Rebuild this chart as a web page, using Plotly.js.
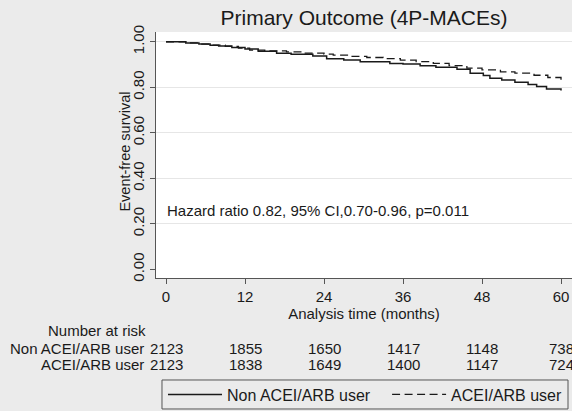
<!DOCTYPE html>
<html>
<head>
<meta charset="utf-8">
<script src="https://cdn.plot.ly/plotly-3.0.1.min.js"></script>
<style>html,body{margin:0;padding:0;background:#ebebeb;overflow:hidden}</style>
</head>
<body>
<div id="chart" style="width:572px;height:411px"></div>
<script>
// Kaplan-Meier estimates
const timeNon = [0, 3, 5, 6.7, 8, 10, 12, 14, 16.8, 19, 22.3, 24.4, 27, 29.5, 34, 36, 38.6, 41, 44.2, 46.2, 48.2, 49.2, 51, 53, 55, 56.3, 57.8, 59, 60];
const survNon = [1.000, 0.995, 0.990, 0.985, 0.981, 0.975, 0.968, 0.958, 0.950, 0.945, 0.937, 0.926, 0.920, 0.912, 0.905, 0.902, 0.895, 0.888, 0.879, 0.862, 0.852, 0.840, 0.832, 0.822, 0.812, 0.803, 0.793, 0.792, 0.786];
const timeAcei = [0, 3, 5, 7, 9, 11, 12.7, 15, 18.3, 21, 24, 25.4, 28, 30.5, 33, 35.6, 38, 40.6, 43, 45.7, 48, 50.8, 53, 55.9, 58, 60];
const survAcei = [1.000, 0.995, 0.990, 0.985, 0.980, 0.972, 0.963, 0.960, 0.956, 0.950, 0.946, 0.941, 0.936, 0.931, 0.926, 0.919, 0.913, 0.905, 0.895, 0.884, 0.877, 0.868, 0.862, 0.853, 0.843, 0.832];

const seriesNames = ["Non ACEI/ARB user", "ACEI/ARB user"];
const riskTimes = [0, 12, 24, 36, 48, 60];
const riskNon = [2123, 1855, 1650, 1417, 1148, 738];
const riskAcei = [2123, 1838, 1649, 1400, 1147, 724];
const xTicks = [0, 12, 24, 36, 48, 60];
const yTicks = [0, 0.2, 0.4, 0.6, 0.8, 1.0];
const yTickText = ["0.00", "0.20", "0.40", "0.60", "0.80", "1.00"];
const gridVals = [0.2, 0.4, 0.6, 0.8, 1.0];
const hazardText = "Hazard ratio 0.82, 95% CI,0.70-0.96, p=0.011";
const titleText = "Primary Outcome (4P-MACEs)";
const xTitle = "Analysis time (months)";
const yTitle = "Event-free survival";

const FONT = "Liberation Sans, Arial, Helvetica, sans-serif";
const INK = "#1a1a1a";
const AXIS = "#555555";

const traces = [
  {x: timeNon, y: survNon, type: "scatter", mode: "lines", name: seriesNames[0], legend: "legend",
   line: {color: INK, width: 1.5, shape: "hv"}},
  {x: timeAcei, y: survAcei, type: "scatter", mode: "lines", name: seriesNames[1], legend: "legend2",
   line: {color: INK, width: 1.3, shape: "hv", dash: "8px,4.5px"}}
];

const annotations = [];
annotations.push({xref: "x", yref: "y", x: -0.2, y: 0.26, xanchor: "left", yanchor: "middle",
  text: hazardText, showarrow: false, font: {family: FONT, size: 15, color: INK}});
annotations.push({xref: "paper", yref: "paper", x: -0.0745, y: 0.514, xanchor: "center", yanchor: "middle",
  textangle: -90, text: yTitle, showarrow: false, font: {family: FONT, size: 14.5, color: INK}});
annotations.push({xref: "paper", yref: "paper", x: -0.02, y: -0.2154, xanchor: "right", yanchor: "middle",
  text: "Number at risk", showarrow: false, font: {family: FONT, size: 15, color: INK}});
annotations.push({xref: "paper", yref: "paper", x: -0.024, y: -0.2846, xanchor: "right", yanchor: "middle",
  text: seriesNames[0], showarrow: false, font: {family: FONT, size: 15, color: INK}});
annotations.push({xref: "paper", yref: "paper", x: -0.024, y: -0.3496, xanchor: "right", yanchor: "middle",
  text: seriesNames[1], showarrow: false, font: {family: FONT, size: 15, color: INK}});
riskTimes.forEach((t, i) => {
  annotations.push({xref: "x", yref: "paper", x: t, y: -0.2846, xanchor: "center", yanchor: "middle",
    text: String(riskNon[i]), showarrow: false, font: {family: FONT, size: 15, color: INK}});
  annotations.push({xref: "x", yref: "paper", x: t, y: -0.3496, xanchor: "center", yanchor: "middle",
    text: String(riskAcei[i]), showarrow: false, font: {family: FONT, size: 15, color: INK}});
});

const legendCommon = {orientation: "h", yanchor: "middle", y: -0.4736, xanchor: "left",
  borderwidth: 0, bgcolor: "rgba(0,0,0,0)", itemwidth: 54,
  font: {family: FONT, size: 16, color: INK}};

const layout = {
  width: 572, height: 411,
  paper_bgcolor: "#ebebeb", plot_bgcolor: "#ffffff",
  margin: {l: 156, r: 0, t: 32, b: 133, pad: 0, autoexpand: false},
  font: {family: FONT, size: 14, color: INK},
  title: {text: titleText, font: {family: FONT, size: 21, color: INK},
          x: 0.6364, xanchor: "center", y: 0.956, yanchor: "middle"},
  xaxis: {range: [-1.52, 61.67], tickvals: xTicks, ticktext: xTicks.map(String),
          showgrid: false, zeroline: false, showline: true, linecolor: AXIS, linewidth: 1,
          ticks: "outside", ticklen: 5, tickcolor: AXIS, tickfont: {size: 15},
          title: {text: xTitle, font: {size: 15}, standoff: 4}},
  yaxis: {range: [-0.038, 1.043], tickvals: yTicks, ticktext: yTickText, tickangle: -90,
          showgrid: false, zeroline: false, showline: true, linecolor: AXIS, linewidth: 1,
          ticks: "outside", ticklen: 5, tickcolor: AXIS, tickfont: {size: 15}},
  yaxis2: {overlaying: "y", range: [-0.038, 1.043], tickvals: gridVals, showticklabels: false,
           showgrid: true, gridcolor: "#e6e6e6", gridwidth: 1, zeroline: false, showline: false, ticks: ""},
  showlegend: true,
  legend: Object.assign({}, legendCommon, {x: 0.0168}),
  legend2: Object.assign({}, legendCommon, {x: 0.5555}),
  shapes: [{type: "rect", xref: "paper", yref: "paper", x0: 0.0144, x1: 0.9904, y0: -0.5325, y1: -0.4146,
            line: {color: AXIS, width: 1}, fillcolor: "rgba(0,0,0,0)"}],
  annotations: annotations
};
// invisible trace to activate the grid axis
traces.push({x: [0], y: [0], yaxis: "y2", mode: "markers", marker: {opacity: 0}, showlegend: false, hoverinfo: "skip"});

Plotly.newPlot("chart", traces, layout, {staticPlot: true});
</script>
</body>
</html>
